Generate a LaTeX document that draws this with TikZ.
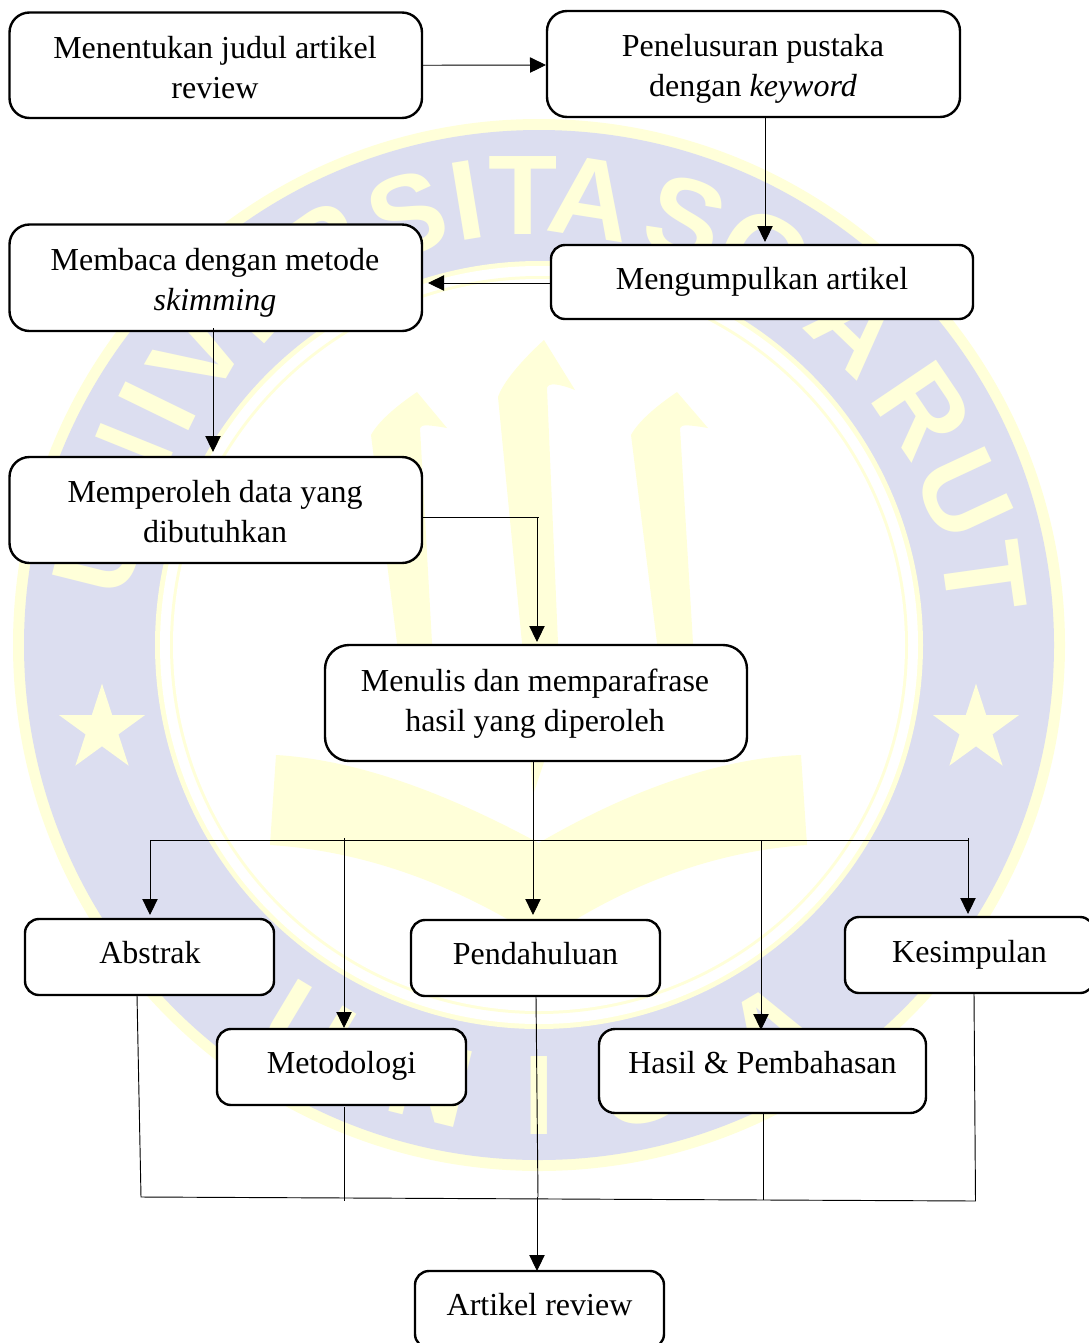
\documentclass[tikz,border=0pt]{standalone}
\usepackage{fontspec}
\setmainfont{Liberation Serif}
\newfontfamily\wmfont{Liberation Sans}
\usetikzlibrary{arrows.meta,shapes.geometric,calc}
\definecolor{wmblue}{HTML}{DCDEF0}
\definecolor{wmyellow}{HTML}{FFFFD9}
\newlength\pxu
\setlength\pxu{.75pt}
\newcommand\lab[3]{\raisebox{#2\pxu}[0pt][0pt]{\makebox[0pt][c]{\hspace*{\dimexpr #1\pxu*2\relax}#3}}}
\newcommand\two[2]{\parbox[t]{330pt}{\centering #1\\#2}}
\tikzset{
  box/.style n args={3}{draw=black,fill=white,line width=1.8pt,inner sep=0pt,
    minimum width=#1*0.75pt,minimum height=#2*0.75pt,rounded corners=#3*0.75pt,
    font=\fontsize{24}{30}\selectfont},
  conn/.style={draw=black,line width=0.7pt},
  arr/.style={conn,-{Triangle[length=12pt,width=11.5pt]}},
  letter/.style={text=wmyellow,font=\wmfont\bfseries\fontsize{85}{85}\selectfont,inner sep=0pt,anchor=center},
  wmstar/.style={star,star points=5,star point ratio=2.62,fill=wmyellow,inner sep=0pt,minimum size=68pt},
}
\begin{document}
\begin{tikzpicture}[x=0.75pt,y=-0.75pt]
\useasboundingbox (0,0) rectangle (1089,1343);
\clip (0,0) rectangle (1089,1343);
\fill[white] (0,0) rectangle (1089,1343);
% --- watermark ---
\coordinate (cen) at (539,645);
\fill[wmyellow] (cen) circle (526);
\fill[wmblue] (cen) circle (515);
\fill[wmyellow] (cen) circle (384);
\fill[white] (cen) circle (379);
\fill[wmyellow] (cen) circle (369);
\fill[white] (cen) circle (366);
\foreach \l/\a/\r [count=\i] in {U/168/76,N/157/68,I/148/64,V/139.5/60,E/129/48,R/118.5/35,S/107/17,I/99.2/9.3,T/92/0,A/83.4/-9,S/71/-18,G/60/-30,A/45/-44,R/31.5/-56,U/19.5/-65,T/8.7/-82}
  \node[letter,rotate=\r] (wma\i) at ($(cen)+(-\a:450)$) {\l};
\foreach \l/\a [count=\i] in {U/-121,N/-104,I/-90,G/-77,A/-59}
  \node[letter,rotate=\a+90] (wmb\i) at ($(cen)+(-\a:450)$) {\l};
\node[wmstar] (star1) at (102,729) {};
\node[wmstar] (star2) at (976,729) {};
% arrows of the emblem
\fill[wmyellow] (417,392) .. controls (395,407) and (378,422) .. (371,435) -- (397,643) -- (412,750) -- (445,750) -- (432,643) -- (420,428) .. controls (421,424) and (430,425) .. (447,428) -- cycle;
\fill[wmyellow] (544,340) .. controls (522,360) and (503,382) .. (498,397) -- (522,643) -- (533,795) -- (544,762) -- (558,643) -- (547,388) .. controls (548,382) and (560,384) .. (575,390) -- cycle;
\fill[wmyellow] (677,392) .. controls (655,407) and (638,422) .. (631,435) -- (657,643) -- (665,750) -- (700,750) -- (693,643) -- (680,428) .. controls (681,424) and (690,425) .. (708,428) -- cycle;
% open book
\fill[wmyellow] (276,755) .. controls (360,760) and (450,795) .. (538.6,843)
  .. controls (630,790) and (720,758) .. (801,755) -- (807,845)
  .. controls (730,850) and (650,875) .. (575,920) -- (540,945) -- (509,920)
  .. controls (430,875) and (350,850) .. (270,845) -- cycle;
% --- boxes ---
\node[box={412.5}{105.5}{20}] (b1) at (215.75,65.25) {\lab{-0.75}{7.25}{\two{Menentukan judul artikel}{review}}};
\node[box={413}{106}{20}] (b2) at (753.5,64) {\lab{-0.5}{8}{\two{Penelusuran pustaka}{dengan \textit{keyword}}}};
\node[box={412.5}{106.5}{20}] (b3) at (215.75,277.75) {\lab{-0.75}{7.75}{\two{Membaca dengan metode}{\textit{skimming}}}};
\node[box={422}{74}{14}] (b4) at (762,282) {\lab{0}{-7}{Mengumpulkan artikel}};
\node[box={412.5}{106}{20}] (b5) at (215.75,510) {\lab{-0.75}{8}{\two{Memperoleh data yang}{dibutuhkan}}};
\node[box={422}{116}{24}] (b6) at (536,703) {\lab{-1}{12}{\two{Menulis dan memparafrase}{hasil yang diperoleh}}};
\node[box={249}{76}{14}] (b7) at (149.5,957) {\lab{0.5}{-6}{Abstrak}};
\node[box={249}{76}{14}] (b8) at (535.5,958) {\lab{0}{-6}{Pendahuluan}};
\node[box={249}{76}{14}] (b9) at (969.5,955) {\lab{0}{-7}{Kesimpulan}};
\node[box={249}{76}{14}] (b10) at (341.5,1067) {\lab{0}{-6}{Metodologi}};
\node[box={327}{84}{16}] (b11) at (762.5,1071) {\lab{0}{-2}{Hasil \& Pembahasan}};
\node[box={249}{77}{14}] (b12) at (539.5,1309.5) {\lab{0}{-5.5}{Artikel review}};
% --- guides ---
\coordinate (t12) at (546,65);
\coordinate (s24) at (765,118);
\coordinate (t24) at (765,242);
\coordinate (t43) at (428,283);
\coordinate (s35) at (213,328);
\coordinate (t35) at (213,452);
\coordinate (j56) at (539,517);
\coordinate (k56) at (537,517);
\coordinate (t56) at (537,642);
\coordinate (s68) at (533,761);
\coordinate (t68) at (533,915);
\coordinate (hl) at (150,840);
\coordinate (hr) at (968,840);
\coordinate (t7) at (150,915);
\coordinate (s10) at (344,838);
\coordinate (t10) at (344,1028);
\coordinate (s11) at (761,840);
\coordinate (t11) at (761,1030);
\coordinate (s9) at (968,838);
\coordinate (t9) at (968,914);
\coordinate (sa) at (137,995);
\coordinate (bl) at (141,1197);
\coordinate (br) at (975.5,1201);
\coordinate (sk) at (974,993);
\coordinate (sm) at (344.5,1107);
\coordinate (em) at (344.5,1201);
\coordinate (sh) at (763,1113);
\coordinate (eh) at (763,1200);
\coordinate (sp) at (536,996);
\coordinate (ep) at (538,1197);
\coordinate (ka) at (537,1197);
\coordinate (ta) at (537,1271);
% --- connectors ---
\draw[arr] (b1.east) -- (t12);
\draw[arr] (s24) -- (t24);
\draw[arr] (b4.west |- t43) -- (t43);
\draw[arr] (s35) -- (t35);
\draw[conn] (b5.east |- j56) -- (j56);
\draw[arr] (k56) -- (t56);
\draw[arr] (s68) -- (t68);
\draw[conn] (hl) -- (hr);
\draw[arr] (hl) -- (t7);
\draw[arr] (s10) -- (t10);
\draw[arr] (s11) -- (t11);
\draw[arr] (s9) -- (t9);
\draw[conn] (sa) -- (bl) -- (br) -- (sk);
\draw[conn] (sm) -- (em);
\draw[conn] (sh) -- (eh);
\draw[conn] (sp) -- (ep);
\draw[arr] (ka) -- (ta);
\end{tikzpicture}
\end{document}
